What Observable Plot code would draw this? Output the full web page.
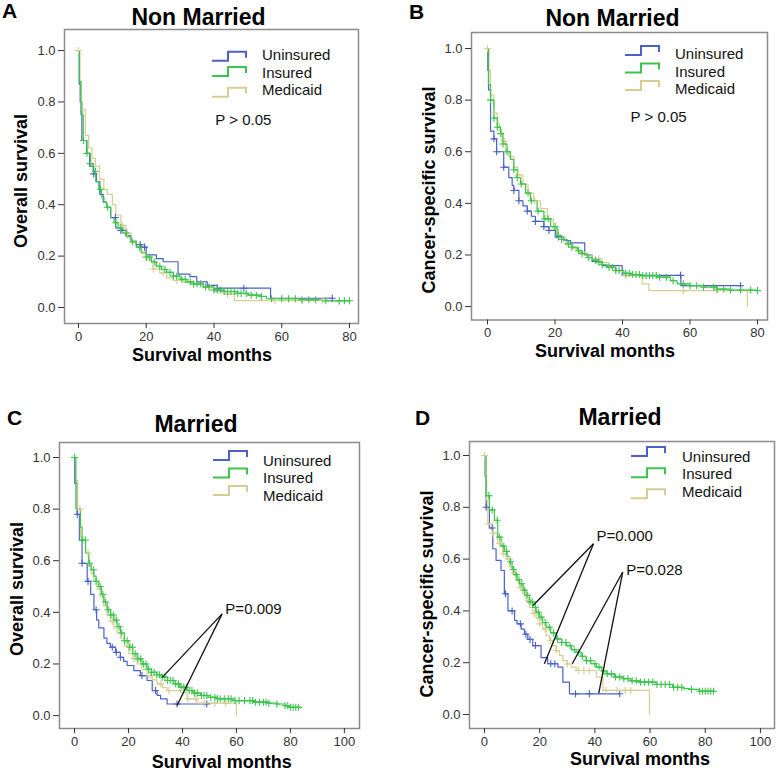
<!DOCTYPE html>
<html><head><meta charset="utf-8">
<script src="https://cdn.jsdelivr.net/npm/d3@7"></script>
<script src="https://cdn.jsdelivr.net/npm/@observablehq/plot@0.6"></script>
<style>
body{margin:0;background:#fff}
#root{position:relative;width:778px;height:773px;overflow:hidden;font-family:"Liberation Sans",Arial,sans-serif}
.panel{position:absolute}
#overlay{position:absolute;left:0;top:0;pointer-events:none}
</style>
</head><body><div id="root"></div>
<script>
// ---------- data ----------
const seriesNames = ["Uninsured", "Insured", "Medicaid"];
const xTicksTop = [0, 20, 40, 60, 80];
const xTicksBottom = [0, 20, 40, 60, 80, 100];
const yTicks = [0, 0.2, 0.4, 0.6, 0.8, 1.0];
const panelTitles = ["Non Married", "Non Married", "Married", "Married"];
const panelLetters = ["A", "B", "C", "D"];
const yLabels = ["Overall survival", "Cancer-specific survival", "Overall survival", "Cancer-specific survival"];
const xLabel = "Survival months";

// Panel A (overall survival, non married): [month, survival] step points
const A_uninsured = [[0,1],[0.2,0.87],[0.5,0.80],[1,0.65],[2.4,0.60],[3.3,0.55],[4.5,0.52],[5.3,0.49],[6.3,0.44],[7.3,0.41],[8.3,0.39],[9.5,0.35],[11,0.31],[12.5,0.30],[14,0.28],[15.5,0.26],[17,0.245],[18.6,0.235],[20,0.205],[23,0.19],[25,0.178],[29.4,0.13],[32.9,0.12],[34.9,0.10],[38,0.086],[41,0.075],[56.7,0.036],[75,0.036]];
const A_insured = [[0,1],[0.3,0.88],[0.7,0.75],[1.4,0.65],[2.5,0.60],[3.5,0.56],[4.3,0.53],[5.1,0.49],[6,0.46],[6.8,0.43],[7.5,0.41],[8.3,0.39],[9.5,0.35],[10.5,0.33],[11.7,0.31],[13,0.29],[14.2,0.275],[15.5,0.255],[17.1,0.235],[18.5,0.215],[20,0.196],[21.5,0.177],[23,0.16],[24.5,0.148],[26,0.137],[28,0.122],[30,0.11],[32,0.1],[34,0.092],[36.8,0.08],[40,0.068],[43,0.062],[47,0.055],[50,0.048],[53.7,0.043],[55.5,0.034],[65,0.03],[72,0.026],[80,0.026]];
const A_medicaid = [[0,1],[0.4,0.88],[0.8,0.77],[2,0.67],[3,0.62],[4,0.58],[5,0.55],[6.2,0.50],[7.5,0.46],[8.5,0.44],[10,0.40],[11,0.36],[12.5,0.32],[14,0.29],[15.5,0.26],[17,0.235],[18.5,0.21],[20,0.185],[22,0.15],[24,0.135],[26,0.115],[28,0.105],[31,0.098],[34,0.09],[37,0.078],[40,0.062],[43,0.052],[46,0.027],[77,0.027],[77,0.012]];
const A_censor_uninsured = [4.5, 10.9, 12.5, 18.2, 19.5, 41, 48.8, 74.9];
const A_censor_insured = [1.5,2.5,3.5,5,6.5,8.5,11,12.5,14,16,18,20,21,22.5,24,25.5,27,28,29,30.5,31.5,33,34,35,36,37.5,38.5,40,41,42,43,44,45,46,47,48,49.5,51,52.5,54,57,60,62,64,66,68,70,73,77,78.5,80];
const A_censor_medicaid = [0, 13, 14.5, 22, 25, 29, 34, 39, 44, 58, 66, 72];

// Panel B (cancer-specific survival, non married)
const B_uninsured = [[0,1],[0.1,0.915],[0.3,0.84],[0.9,0.68],[1.9,0.65],[2.7,0.60],[4.8,0.54],[6.3,0.50],[7.3,0.47],[7.8,0.45],[9.3,0.41],[10.5,0.39],[11.8,0.37],[13,0.35],[14.2,0.33],[16.7,0.31],[18.2,0.295],[20.1,0.27],[22.6,0.256],[24.6,0.247],[28.8,0.20],[31,0.175],[34,0.159],[39.9,0.121],[57.3,0.081],[75.2,0.081]];
const B_insured = [[0,1],[0.3,0.86],[0.9,0.80],[1.9,0.73],[2.9,0.695],[3.9,0.67],[4.6,0.63],[5.8,0.60],[6.8,0.57],[7.8,0.53],[8.8,0.50],[9.8,0.475],[11.3,0.44],[12.7,0.41],[14.7,0.37],[16.7,0.34],[18.7,0.31],[20.6,0.275],[22,0.26],[23.6,0.243],[25,0.23],[26.6,0.217],[28,0.205],[29.5,0.19],[31,0.18],[32.5,0.172],[34,0.162],[35.5,0.152],[38,0.14],[40.4,0.129],[43,0.124],[45.3,0.12],[50.3,0.114],[54.2,0.10],[56.2,0.088],[60,0.081],[64,0.075],[68,0.068],[72,0.064],[80,0.062]];
const B_medicaid = [[0,1],[0.4,0.915],[0.9,0.82],[1.9,0.75],[2.9,0.71],[3.5,0.68],[4.3,0.64],[5.3,0.60],[6.3,0.58],[7.8,0.54],[9,0.51],[10.5,0.475],[12,0.44],[13.7,0.41],[15.7,0.38],[17.7,0.34],[19.5,0.30],[21,0.27],[23,0.24],[25,0.225],[27,0.21],[29,0.2],[31,0.185],[33.5,0.17],[36,0.15],[38,0.135],[40.4,0.12],[45.8,0.088],[47.8,0.062],[77,0.062],[77,0]];
const B_censor_uninsured = [1.9, 2.7, 4.8, 7.8, 9.3, 11.8, 14.2, 16.7, 18.2, 21, 57.2, 75];
const B_censor_insured = [0.9,1.9,2.9,3.9,4.6,5.8,7.8,8.8,10,12,13,15,17,18,20,21,22,24,25,27,28,30,32,33,34,36,37,38,39,41,42,43,44,45,46,47,48,49,50,51,53,55,58,60,62,64,67,68,70,72,75,78,80];
const B_censor_medicaid = [0, 1.9, 5, 9, 14, 24, 33, 41, 58, 68];

// Panel C (overall survival, married)
const C_uninsured = [[0,1],[0.1,0.9],[1,0.78],[1.8,0.68],[2.8,0.59],[4.7,0.52],[6,0.47],[7.2,0.41],[8.2,0.37],[9,0.34],[10.9,0.30],[12,0.28],[13.3,0.265],[15.2,0.245],[17,0.226],[18.2,0.21],[19.5,0.194],[22,0.174],[24.4,0.155],[26.9,0.136],[28.8,0.097],[30.6,0.078],[31.9,0.065],[34.3,0.045],[49.1,0.045]];
const C_insured = [[0,1],[0.5,0.8],[2.2,0.73],[2.8,0.68],[4.1,0.63],[5.3,0.59],[6.2,0.565],[7.2,0.54],[8,0.52],[9,0.50],[10,0.47],[10.9,0.44],[12.1,0.41],[13.3,0.39],[14.6,0.37],[15.8,0.345],[17,0.32],[18.5,0.29],[20.1,0.265],[21.6,0.24],[23.2,0.22],[25,0.2],[26.9,0.18],[28.5,0.168],[30.5,0.158],[32.5,0.149],[34.5,0.136],[36.8,0.123],[39,0.11],[41.7,0.097],[44,0.087],[46.7,0.078],[49.5,0.071],[52.8,0.065],[59,0.058],[66.4,0.052],[72,0.048],[75,0.045],[78,0.038],[80,0.032],[83.7,0.03]];
const C_medicaid = [[0,1],[0.4,0.91],[1.2,0.8],[2.2,0.69],[3,0.68],[4.1,0.63],[5.3,0.58],[6.2,0.55],[7.2,0.52],[8.4,0.49],[9.6,0.46],[10.8,0.425],[12.1,0.39],[13.3,0.365],[14.6,0.34],[15.8,0.32],[17,0.30],[18.5,0.27],[20.1,0.24],[21.6,0.22],[23.2,0.20],[25,0.178],[26.9,0.155],[28.8,0.138],[30.6,0.123],[32.5,0.108],[34.3,0.097],[39.3,0.09],[41.7,0.065],[45.4,0.048],[60,0.048],[60,0]];
const C_censor_uninsured = [1, 2.8, 5, 8, 14, 15.5, 17, 25, 30, 38, 49];
const C_censor_insured = [0,3,4,5.5,7,8,9.5,10.5,11.5,12.5,13.5,14.5,15.5,16.5,17.5,18.5,19.5,20.5,21.5,22.5,23.5,24.5,25.5,26.5,27.5,28.5,29.5,30.5,31.5,32.5,33.5,34.5,35.5,36.5,37.5,38.5,39.5,40.5,41.5,42.5,43.5,44.5,45.5,47,48,49,50.5,52,53,54,55.5,57,58,59.5,61,63,65,66,67,68.5,70,71,72,75,78,79,80,81,82,83];
const C_censor_medicaid = [0, 2, 5, 14, 20, 22, 28, 32, 35, 42, 45, 48, 52, 56];

// Panel D (cancer-specific survival, married)
const D_uninsured = [[0,1],[0.2,0.92],[0.6,0.80],[1.8,0.72],[3,0.64],[4.2,0.595],[6,0.556],[7.2,0.466],[8.5,0.40],[10.9,0.363],[11.8,0.35],[13.3,0.33],[14.5,0.31],[15.7,0.29],[17.5,0.266],[20.5,0.22],[22.9,0.196],[26.6,0.183],[28.4,0.125],[30.8,0.08],[48.9,0.08]];
const D_insured = [[0,1],[0.6,0.845],[1.8,0.79],[3.6,0.75],[4.8,0.685],[6,0.65],[7.2,0.63],[8.2,0.61],[9.1,0.59],[10,0.56],[10.9,0.54],[11.8,0.52],[12.7,0.505],[14,0.48],[15.1,0.46],[16.3,0.435],[17.5,0.414],[18.7,0.395],[19.9,0.376],[21.1,0.355],[22.3,0.337],[24,0.315],[26,0.292],[28,0.278],[29.6,0.266],[31.5,0.25],[33.2,0.24],[35,0.225],[36.8,0.208],[38.5,0.196],[40.5,0.183],[42.5,0.168],[44.1,0.157],[47,0.145],[50.1,0.138],[53,0.13],[56.2,0.125],[62.2,0.116],[68.2,0.105],[72,0.1],[74.3,0.097],[77.9,0.09],[83.3,0.09]];
const D_medicaid = [[0,1],[0.3,0.92],[0.8,0.826],[1.2,0.736],[3,0.70],[4.8,0.66],[6.6,0.62],[7.8,0.6],[9.1,0.57],[10.3,0.545],[11.5,0.517],[12.7,0.49],[13.9,0.466],[15.1,0.44],[16.3,0.414],[17.5,0.39],[18.7,0.37],[19.9,0.35],[21.1,0.33],[22.3,0.305],[23.6,0.286],[24.8,0.265],[26,0.247],[27.2,0.228],[28.4,0.208],[30,0.195],[31.4,0.183],[33.2,0.17],[40.5,0.144],[42.9,0.093],[59.8,0.093],[59.8,0]];
const D_censor_uninsured = [0.6, 2.8, 7.6, 10, 13, 15, 16.5, 18.5, 24, 25.5, 33, 38, 49];
const D_censor_insured = [1.6,2.8,4.6,5.5,7,8,9.4,10.5,11.5,12.5,13.5,14.5,15.5,16.5,17.3,18.5,19.5,20.5,22,23.5,25,26.5,28,29.5,31,32.5,34,35.5,37,38.4,40,41.5,43.2,44.5,46,47.5,49,50.5,52,53.5,55,56.5,58,59.5,61,62.5,64,65.5,67,68.5,70,71.5,75,78,79,80,81,82,83];
const D_censor_medicaid = [0, 1.5, 3, 5.5, 7, 9, 11, 13, 15, 16, 18, 20, 22, 24, 26, 30, 34, 36, 38, 44, 48, 51, 53];

// p-value labels [month, survival, text] and pointer lines [from month, from surv, to month, to surv]
const A_pLabels = [[40.4, 0.73, "P > 0.05"]];
const B_pLabels = [[42.4, 0.733, "P > 0.05"]];
const C_pLabels = [[55.9, 0.411, "P=0.009"]];
const C_pointers = [[54.7, 0.394, 32.5, 0.148], [54.7, 0.394, 38, 0.039]];
const D_pLabels = [[40.6, 0.687, "P=0.000"], [51.4, 0.556, "P=0.028"]];
const D_pointers = [[39.5, 0.659, 17.5, 0.42], [39.5, 0.659, 21.7, 0.196], [50.1, 0.55, 31.8, 0.196], [50.1, 0.55, 41.4, 0.082]];

// ---------- styles / layout ----------
const seriesColors = ["#4a62c8", "#3cc44c", "#d6cd92"];
const drawOrder = [0, 2, 1];
const font = "'Liberation Sans', Arial, sans-serif";

function stepAt(curve, t) {
  let s = curve[0][1];
  for (const [ct, cs] of curve) { if (ct <= t) s = cs; else break; }
  return s;
}

function makePanel(cfg) {
  const marks = [
    Plot.frame({stroke: "#8c8c8c", strokeWidth: 1.5}),
    Plot.axisX({ticks: cfg.xTicks, tickSize: 5, tickPadding: 3, label: null, fontSize: 13}),
    Plot.axisY({ticks: yTicks, tickSize: 6, tickPadding: 3, tickFormat: d3.format(".1f"), label: null, fontSize: 13})
  ];
  for (const i of drawOrder) {
    const pts = cfg.curves[i].map(([t, s]) => ({t, s, series: seriesNames[i]}));
    marks.push(Plot.line(pts, {x: "t", y: "s", stroke: "series", curve: "step-after", strokeWidth: 1.2}));
  }
  for (const i of drawOrder) {
    const cens = cfg.censors[i].map(t => ({t, s: stepAt(cfg.curves[i], t), series: seriesNames[i]}));
    marks.push(Plot.dot(cens, {x: "t", y: "s", stroke: "series", symbol: "plus", r: 2.4, strokeWidth: 1.1}));
  }
  if (cfg.pointers) {
    marks.push(Plot.link(cfg.pointers, {x1: d => d[0], y1: d => d[1], x2: d => d[2], y2: d => d[3], stroke: "#111", strokeWidth: 1.3}));
  }
  marks.push(Plot.text(cfg.pLabels, {x: d => d[0], y: d => d[1], text: d => d[2], textAnchor: "start", lineAnchor: "middle", fontSize: 15, fill: "#111"}));
  const p = Plot.plot({
    width: cfg.width, height: cfg.height,
    marginLeft: cfg.m[0], marginRight: cfg.m[1], marginTop: cfg.m[2], marginBottom: cfg.m[3],
    style: {fontFamily: font, fontSize: "13px", color: "#333", background: "transparent", overflow: "visible"},
    x: {domain: cfg.xDomain},
    y: {domain: cfg.yDomain},
    color: {domain: seriesNames, range: seriesColors},
    marks
  });
  const div = document.createElement("div");
  div.className = "panel";
  div.style.left = cfg.left + "px";
  div.style.top = cfg.top + "px";
  div.appendChild(p);
  return div;
}

const root = document.getElementById("root");
const panels = [
  {left: 0, top: 0, width: 389, height: 345, m: [64, 31, 29, 22], xDomain: [-4.13, 82.66], yDomain: [-0.0623, 1.082], xTicks: xTicksTop,
   curves: [A_uninsured, A_insured, A_medicaid], censors: [A_censor_uninsured, A_censor_insured, A_censor_medicaid], pLabels: A_pLabels},
  {left: 389, top: 0, width: 389, height: 345, m: [82, 11, 32, 25.5], xDomain: [-4.74, 82.96], yDomain: [-0.052, 1.062], xTicks: xTicksTop,
   curves: [B_uninsured, B_insured, B_medicaid], censors: [B_censor_uninsured, B_censor_insured, B_censor_medicaid], pLabels: B_pLabels},
  {left: 0, top: 380, width: 389, height: 380, m: [59, 30, 62, 32], xDomain: [-5.56, 105.6], yDomain: [-0.050, 1.058], xTicks: xTicksBottom,
   curves: [C_uninsured, C_insured, C_medicaid], censors: [C_censor_uninsured, C_censor_insured, C_censor_medicaid], pLabels: C_pLabels, pointers: C_pointers},
  {left: 389, top: 380, width: 389, height: 380, m: [80, 4, 61, 32], xDomain: [-5.43, 105.1], yDomain: [-0.054, 1.054], xTicks: xTicksBottom,
   curves: [D_uninsured, D_insured, D_medicaid], censors: [D_censor_uninsured, D_censor_insured, D_censor_medicaid], pLabels: D_pLabels, pointers: D_pointers}
];
for (const cfg of panels) root.appendChild(makePanel(cfg));

// ---------- overlay text: letters, titles, axis labels, legends ----------
const NS = "http://www.w3.org/2000/svg";
const ov = document.createElementNS(NS, "svg");
ov.setAttribute("id", "overlay");
ov.setAttribute("width", 778); ov.setAttribute("height", 773);
ov.setAttribute("font-family", font);
root.appendChild(ov);
function txt(x, y, s, opts = {}) {
  const t = document.createElementNS(NS, "text");
  t.setAttribute("x", x); t.setAttribute("y", y);
  t.setAttribute("font-size", opts.size || 15);
  if (opts.bold) t.setAttribute("font-weight", "bold");
  t.setAttribute("text-anchor", opts.anchor || "start");
  if (opts.rotate) t.setAttribute("transform", `rotate(-90 ${x} ${y})`);
  t.setAttribute("fill", opts.fill || "#000");
  t.textContent = s;
  ov.appendChild(t);
}
const letterPos = [[2, 18], [409, 19], [7, 425], [415, 425]];
const titlePos = [[198.5, 25], [612.5, 26], [196, 432], [620, 425]];
const yLabelPos = [[27, 181], [435, 190], [23, 589], [433, 594]];
const xLabelPos = [[202, 361], [605, 357], [221.7, 768], [640, 765]];
for (let k = 0; k < 4; k++) {
  txt(letterPos[k][0], letterPos[k][1], panelLetters[k], {size: 21, bold: true});
  txt(titlePos[k][0], titlePos[k][1], panelTitles[k], {size: 23, bold: true, anchor: "middle"});
  txt(yLabelPos[k][0], yLabelPos[k][1], yLabels[k], {size: 18, bold: true, anchor: "middle", rotate: true});
  txt(xLabelPos[k][0], xLabelPos[k][1], xLabel, {size: 18, bold: true, anchor: "middle"});
}
// legends: icon x, text x, baselines, icon bottoms
const legendPos = [
  {ix: 212, tx: 262, base: [60, 77.5, 95], ib: [60.7, 76, 96.7]},
  {ix: 625, tx: 675, base: [59.3, 76.7, 94.3], ib: [55, 72.5, 90]},
  {ix: 213, tx: 263, base: [466, 483.3, 500.7], ib: [460, 477.5, 495]},
  {ix: 631, tx: 682, base: [461.7, 479.3, 496.7], ib: [456, 477.3, 498.3]}
];
for (const L of legendPos) {
  for (let i = 0; i < 3; i++) {
    const b = L.ib[i], x0 = L.ix;
    const path = document.createElementNS(NS, "path");
    path.setAttribute("d", `M${x0},${b} H${x0 + 16} V${b - 9} H${x0 + 34} V${b - 3}`);
    path.setAttribute("fill", "none");
    path.setAttribute("stroke", seriesColors[i]);
    path.setAttribute("stroke-width", 2);
    ov.appendChild(path);
    txt(L.tx, L.base[i], seriesNames[i], {size: 15, fill: "#111"});
  }
}
</script>
</body></html>
